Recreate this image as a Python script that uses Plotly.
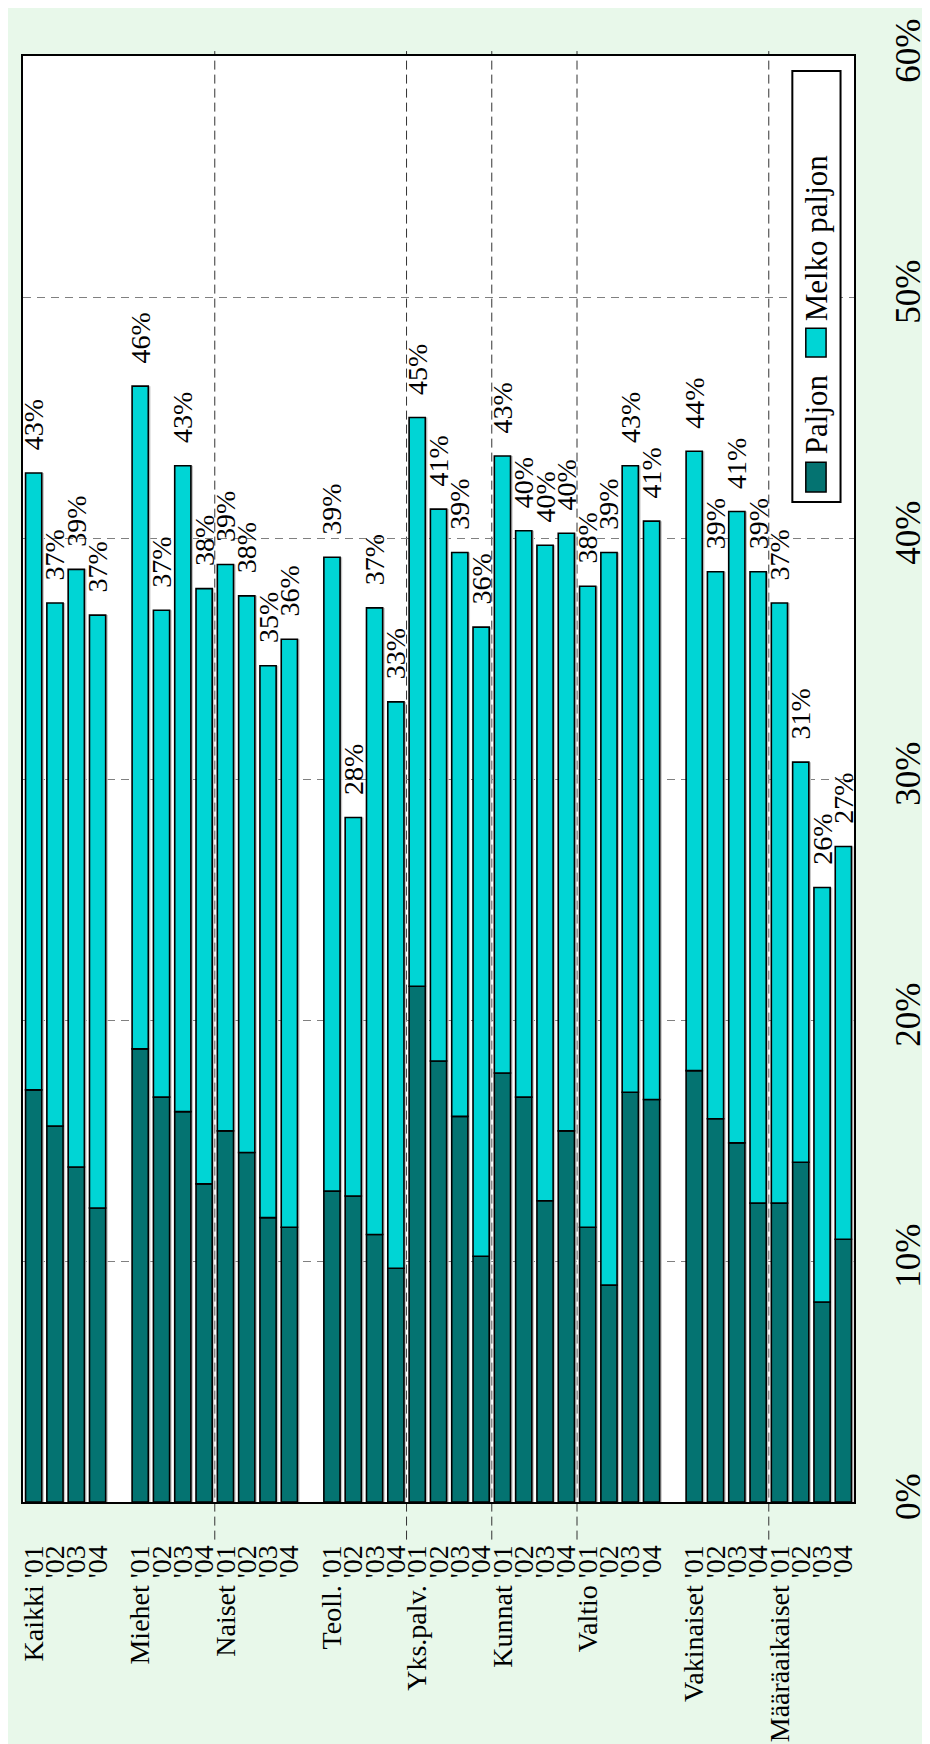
import plotly.graph_objects as go

# data (percent)
groups = ["Kaikki", "Miehet", "Naiset", "Teoll.", "Yks.palv.", "Kunnat", "Valtio", "Vakinaiset", "Määräaikaiset"]
years = ["'01", "'02", "'03", "'04"]
gap_after = ["Kaikki", "Naiset", "Valtio"]

paljon = [
    17.1, 15.6, 13.9, 12.2,
    18.8, 16.8, 16.2, 13.2,
    15.4, 14.5, 11.8, 11.4,
    12.9, 12.7, 11.1, 9.7,
    21.4, 18.3, 16.0, 10.2,
    17.8, 16.8, 12.5, 15.4,
    11.4, 9.0, 17.0, 16.7,
    17.9, 15.9, 14.9, 12.4,
    12.4, 14.1, 8.3, 10.9,
]
melko_paljon = [
    25.6, 21.7, 24.8, 24.6,
    27.5, 20.2, 26.8, 24.7,
    23.5, 23.1, 22.9, 24.4,
    26.3, 15.7, 26.0, 23.5,
    23.6, 22.9, 23.4, 26.1,
    25.6, 23.5, 27.2, 24.8,
    26.6, 30.4, 26.0, 24.0,
    25.7, 22.7, 26.2, 26.2,
    24.9, 16.6, 17.2, 16.3,
]
total_labels = [
    43, 37, 39, 37,
    46, 37, 43, 38,
    39, 38, 35, 36,
    39, 28, 37, 33,
    45, 41, 39, 36,
    43, 40, 40, 40,
    38, 39, 43, 41,
    44, 39, 41, 39,
    37, 31, 26, 27,
]

DARK = "#047371"
CYAN = "#00D5D5"
BG = "#E8F8EA"
FONT = "Liberation Serif, Times New Roman, DejaVu Serif, serif"

# slot positions, with an empty slot after some groups
xpos, xtext, bounds = [], [], []
slot = 0
prev_gap = True
for g in groups:
    if not prev_gap:
        bounds.append(slot - 0.5)
    for j, yr in enumerate(years):
        xpos.append(slot)
        xtext.append(f"{g} {yr}" if j == 0 else yr)
        slot += 1
    prev_gap = g in gap_after
    if prev_gap:
        slot += 1

totals = [p + m for p, m in zip(paljon, melko_paljon)]
W = 0.76

fig = go.Figure()
# thin grey shadow right of each bar
fig.add_trace(go.Bar(
    x=xpos, y=totals, width=W, offset=-W / 2 + 0.1,
    marker=dict(color="#c4c4c4", line_width=0),
    hoverinfo="skip", showlegend=False,
))
fig.add_trace(go.Bar(
    name="Paljon", x=xpos, y=paljon, width=W,
    marker=dict(color=DARK, line=dict(color="black", width=1.6)),
    showlegend=False,
))
fig.add_trace(go.Bar(
    name="Melko paljon", x=xpos, y=melko_paljon, base=paljon, width=W,
    marker=dict(color=CYAN, line=dict(color="black", width=1.6)),
    text=["\u2002\u2009" + f"{t}%" for t in total_labels],
    textposition="outside", textangle=-90, constraintext="none",
    cliponaxis=False,
    textfont=dict(family=FONT, size=28, color="black"),
    showlegend=False,
))

# dashed vertical separators between adjoining groups
for b in bounds:
    fig.add_shape(type="line", xref="x", yref="paper", x0=b, x1=b, y0=-0.026, y1=1.0034,
                  line=dict(color="#333333", width=1, dash="9px,5px"), layer="below")

# legend drawn rotated, like the rest of the chart
fig.add_shape(type="rect", xref="paper", yref="paper", x0=0.9258, x1=0.9838, y0=0.6916, y1=0.9897,
              line=dict(color="black", width=2), fillcolor="white")
fig.add_shape(type="rect", xref="paper", yref="paper", x0=0.942, x1=0.9664, y0=0.6985, y1=0.7191,
              line=dict(color="black", width=1.5), fillcolor=DARK)
fig.add_shape(type="rect", xref="paper", yref="paper", x0=0.942, x1=0.9664, y0=0.7919, y1=0.8118,
              line=dict(color="black", width=1.5), fillcolor=CYAN)
fig.add_annotation(xref="paper", yref="paper", x=0.955, y=0.752, text="Paljon", showarrow=False,
                   xanchor="center", yanchor="middle",
                   textangle=-90, font=dict(family=FONT, size=31, color="black"))
fig.add_annotation(xref="paper", yref="paper", x=0.955, y=0.8743, text="Melko paljon", showarrow=False,
                   xanchor="center", yanchor="middle",
                   textangle=-90, font=dict(family=FONT, size=31, color="black"))

fig.update_layout(
    width=930, height=1744,
    margin=dict(l=10, r=58, t=48, b=240),
    barmode="overlay",
    paper_bgcolor=BG,
    plot_bgcolor="white",
    font=dict(family=FONT, color="black"),
    xaxis=dict(
        range=[-0.5, 38.5], tickmode="array", tickvals=xpos, ticktext=xtext,
        tickangle=-90, tickfont=dict(family=FONT, size=28), ticks="", ticklabelstandoff=30,
        showgrid=False, showline=True, linecolor="black", linewidth=2, mirror=True,
    ),
    yaxis=dict(
        range=[0, 60], dtick=10, ticksuffix="%", side="right", tickangle=-90,
        tickfont=dict(family=FONT, size=35), ticks="", ticklabelstandoff=22,
        showgrid=True, gridcolor="#808080", gridwidth=1, griddash="8px,6px",
        zeroline=False, showline=True, linecolor="black", linewidth=2, mirror=True,
    ),
)

fig.write_html("out.html")
